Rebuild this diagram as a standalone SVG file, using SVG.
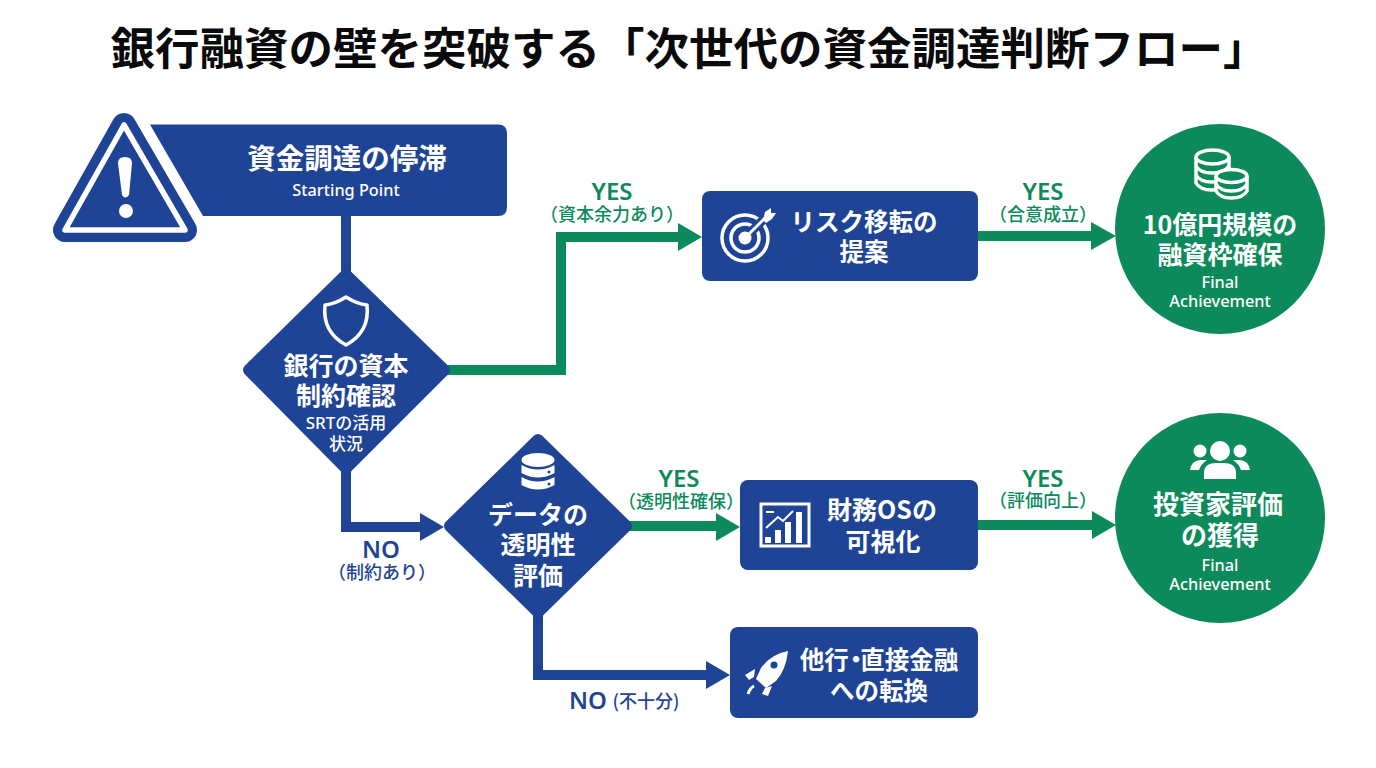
<svg xmlns="http://www.w3.org/2000/svg" width="1376" height="768" viewBox="0 0 1376 768">
<style>
text{font-family:"Noto Sans CJK JP","Noto Sans",sans-serif;text-anchor:middle;font-weight:700}
.t{fill:#fff}
.en{fill:#fff;font-family:"Noto Sans","Noto Sans CJK JP",sans-serif;font-weight:500;font-size:16.3px}
.b{fill:#1f4496;stroke:#1f4496;stroke-width:12;stroke-linejoin:round}
.box{fill:#1f4496}
.c{fill:#0d8a5b}
.g{fill:none;stroke:#0d8a5b;stroke-width:10}
.n{fill:none;stroke:#1f4496;stroke-width:10}
.gh{fill:#0d8a5b}.nh{fill:#1f4496}
.gl{fill:#0d8a5b}.nl{fill:#1f4496}
.big{font-size:24px;font-weight:600;font-family:"Noto Sans","Noto Sans CJK JP",sans-serif}
.sm{font-size:18px;font-weight:500}
.ico{fill:none;stroke:#fff;stroke-width:3.5;stroke-linejoin:round;stroke-linecap:round}
.icf{fill:#fff}
</style>
<rect width="1376" height="768" fill="#fff"/>
<text id="title" x="689" y="65" font-size="44.5" fill="#0a0a0a">銀行融資の壁を突破する「次世代の資金調達判断フロー」</text>

<g id="connectors">
<path class="n" d="M346 210V275"/>
<path class="g" d="M445 370H561V237H680"/>
<path class="gh" d="M678 223L702 237L678 251Z"/>
<path class="g" d="M975 236H1094"/>
<path class="gh" d="M1091 222L1116 236L1091 250Z"/>
<path class="n" d="M346 470V527H422"/>
<path class="nh" d="M420 513L444 527L420 541Z"/>
<path class="g" d="M628 526H718"/>
<path class="gh" d="M716 513L740 527L716 541Z"/>
<path class="g" d="M975 525H1094"/>
<path class="gh" d="M1092 511L1116 525L1092 539Z"/>
<path class="n" d="M538 615V675H708"/>
<path class="nh" d="M706 661L730 675L706 689Z"/>
</g>

<g id="labels">
<text class="gl big" x="612" y="200">YES</text>
<text class="gl sm" x="612" y="221">（資本余力あり）</text>
<text class="gl big" x="1043" y="200">YES</text>
<text class="gl sm" x="1043" y="221">（合意成立）</text>
<text class="gl big" x="679" y="487">YES</text>
<text class="gl sm" x="681" y="508">（透明性確保）</text>
<text class="gl big" x="1043" y="487">YES</text>
<text class="gl sm" x="1043" y="507">（評価向上）</text>
<text class="nl big" x="381" y="558">NO</text>
<text class="nl sm" x="382" y="579">（制約あり）</text>
<text class="nl big" x="588" y="709">NO</text>
<text class="nl sm" x="646" y="708">(不十分)</text>
</g>

<g id="start">
<path class="box" d="M150 124.5H498Q507 124.5 507 133V207Q507 216 498 216H203Z"/>
<path d="M124 125L65 230H185Z" fill="#1f4496" stroke="#1f4496" stroke-width="24" stroke-linejoin="round"/>
<path d="M124 125L65 230H185Z" fill="#1f4496" stroke="#fff" stroke-width="5.5" stroke-linejoin="round"/>
<path class="icf" d="M118 163Q118 157 125 157Q132 157 132 163L129 195Q125 200 122 195Z"/>
<circle class="icf" cx="126" cy="211" r="7"/>
<text class="t" x="347" y="169" font-size="28.5">資金調達の停滞</text>
<text class="en" x="346" y="196">Starting Point</text>
</g>

<g id="decision-capital">
<path class="b" d="M346 275L444 370L346 468L249 370Z"/>
<path class="ico" d="M346 297Q357 304 367 305Q370 332 346 345Q322 332 325 305Q335 304 346 297Z"/>
<text class="t" x="346" y="375" font-size="25">銀行の資本</text>
<text class="t" x="346" y="405" font-size="25">制約確認</text>
<text class="en" x="346" y="429" style="font-size:17px">SRTの活用</text>
<text class="en" x="346" y="450" style="font-size:17px">状況</text>
</g>

<g id="decision-data">
<path class="b" d="M538 440L626 526L538 612L450 526Z"/>
<g class="icf">
<ellipse cx="538" cy="460" rx="16.5" ry="7"/>
<path d="M521.5 465Q538 474 554.5 465V473Q538 482 521.5 473Z"/>
<path d="M521.5 477Q538 486 554.5 477V485Q538 494 521.5 485Z"/>
</g>
<circle cx="549" cy="472" r="1.5" fill="#1f4496"/>
<circle cx="549" cy="484" r="1.5" fill="#1f4496"/>
<text class="t" x="538" y="524" font-size="25">データの</text>
<text class="t" x="538" y="554" font-size="25">透明性</text>
<text class="t" x="538" y="585" font-size="25">評価</text>
</g>

<g id="risk-transfer">
<rect class="box" x="702" y="191" width="276" height="90" rx="8"/>
<g class="ico" stroke-width="4">
<circle cx="745" cy="238" r="23"/>
<circle cx="745" cy="238" r="14"/>
</g>
<path d="M745 238L767 216" fill="none" stroke="#1f4496" stroke-width="9"/>
<path d="M745 238L767 216" fill="none" stroke="#fff" stroke-width="3"/>
<circle class="icf" cx="745" cy="238" r="6.5"/>
<path class="icf" d="M763 220L765 212L771 208L771 213L776 213L772 219L766 223Z"/>
<text class="t" x="864" y="231" font-size="24.5">リスク移転の</text>
<text class="t" x="864" y="261" font-size="24.5">提案</text>
</g>

<g id="financial-os">
<rect class="box" x="740" y="480" width="238" height="90" rx="8"/>
<rect x="761" y="504" width="48" height="42" fill="none" stroke="#fff" stroke-width="3"/>
<path class="icf" d="M765 537h6v6h-6zM775 530h6v13h-6zM785 522h6v21h-6zM796 512h6v31h-6z"/>
<path d="M766 528L778 517L783 521L793 511M766 512H774" fill="none" stroke="#fff" stroke-width="2"/>
<text class="t" x="882" y="519" font-size="25">財務OSの</text>
<text class="t" x="883" y="551" font-size="25">可視化</text>
</g>

<g id="other-banks">
<rect class="box" x="730" y="627" width="248" height="91" rx="8"/>
<path class="icf" d="M788 651Q771 654 761 668L756 679L766 688L776 681Q786 670 788 651Z"/>
<circle cx="774" cy="665" r="3.5" fill="#1f4496"/>
<path class="icf" d="M755 669L745 675L749 680L754 677ZM772 686L768 696L762 694L765 688Z"/>
<path d="M748 694Q750 688 754 686" fill="none" stroke="#fff" stroke-width="3"/>
<text class="t" x="879" y="669" font-size="24.5">他行<tspan dx="-5">・</tspan><tspan dx="-8">直接金融</tspan></text>
<text class="t" x="879" y="700" font-size="24.5">への転換</text>
</g>

<g id="goal-funding">
<circle class="c" cx="1220" cy="229" r="105"/>
<g fill="#0d8a5b" stroke="#fff" stroke-width="3.5">
<path d="M1196 157V183Q1200 190 1212 190Q1224 190 1229 183V157"/>
<ellipse cx="1212.500" cy="157" rx="16.500" ry="7"/>
<path fill="none" d="M1196 166Q1200 173 1212 173Q1224 173 1229 166M1196 175Q1200 182 1212 182Q1224 182 1229 175"/>
<path d="M1216 176V191Q1220 198 1231.500 198Q1243 198 1247 191V176"/>
<ellipse cx="1231.500" cy="176" rx="15.500" ry="6.500"/>
<path fill="none" d="M1216 184Q1220 191 1231.500 191Q1243 191 1247 184"/>
</g>
<text class="t" x="1220" y="234" font-size="25">10億円規模の</text>
<text class="t" x="1220" y="264" font-size="25">融資枠確保</text>
<text class="en" x="1220" y="288">Final</text>
<text class="en" x="1220" y="307">Achievement</text>
</g>

<g id="goal-investors">
<circle class="c" cx="1220" cy="518" r="105"/>
<g class="icf">
<circle cx="1220" cy="451" r="10"/>
<circle cx="1200" cy="451" r="6.5"/>
<circle cx="1240" cy="451" r="6.5"/>
<path d="M1204 479V473Q1204 463 1216 463H1224Q1236 463 1236 473V479Z"/>
<path d="M1190 470Q1191 461 1200 460H1207Q1201 464 1199 470Z"/>
<path d="M1250 470Q1249 461 1240 460H1233Q1239 464 1241 470Z"/>
</g>
<text class="t" x="1218" y="514" font-size="26">投資家評価</text>
<text class="t" x="1220" y="545" font-size="26">の獲得</text>
<text class="en" x="1220" y="571">Final</text>
<text class="en" x="1220" y="590">Achievement</text>
</g>
</svg>
